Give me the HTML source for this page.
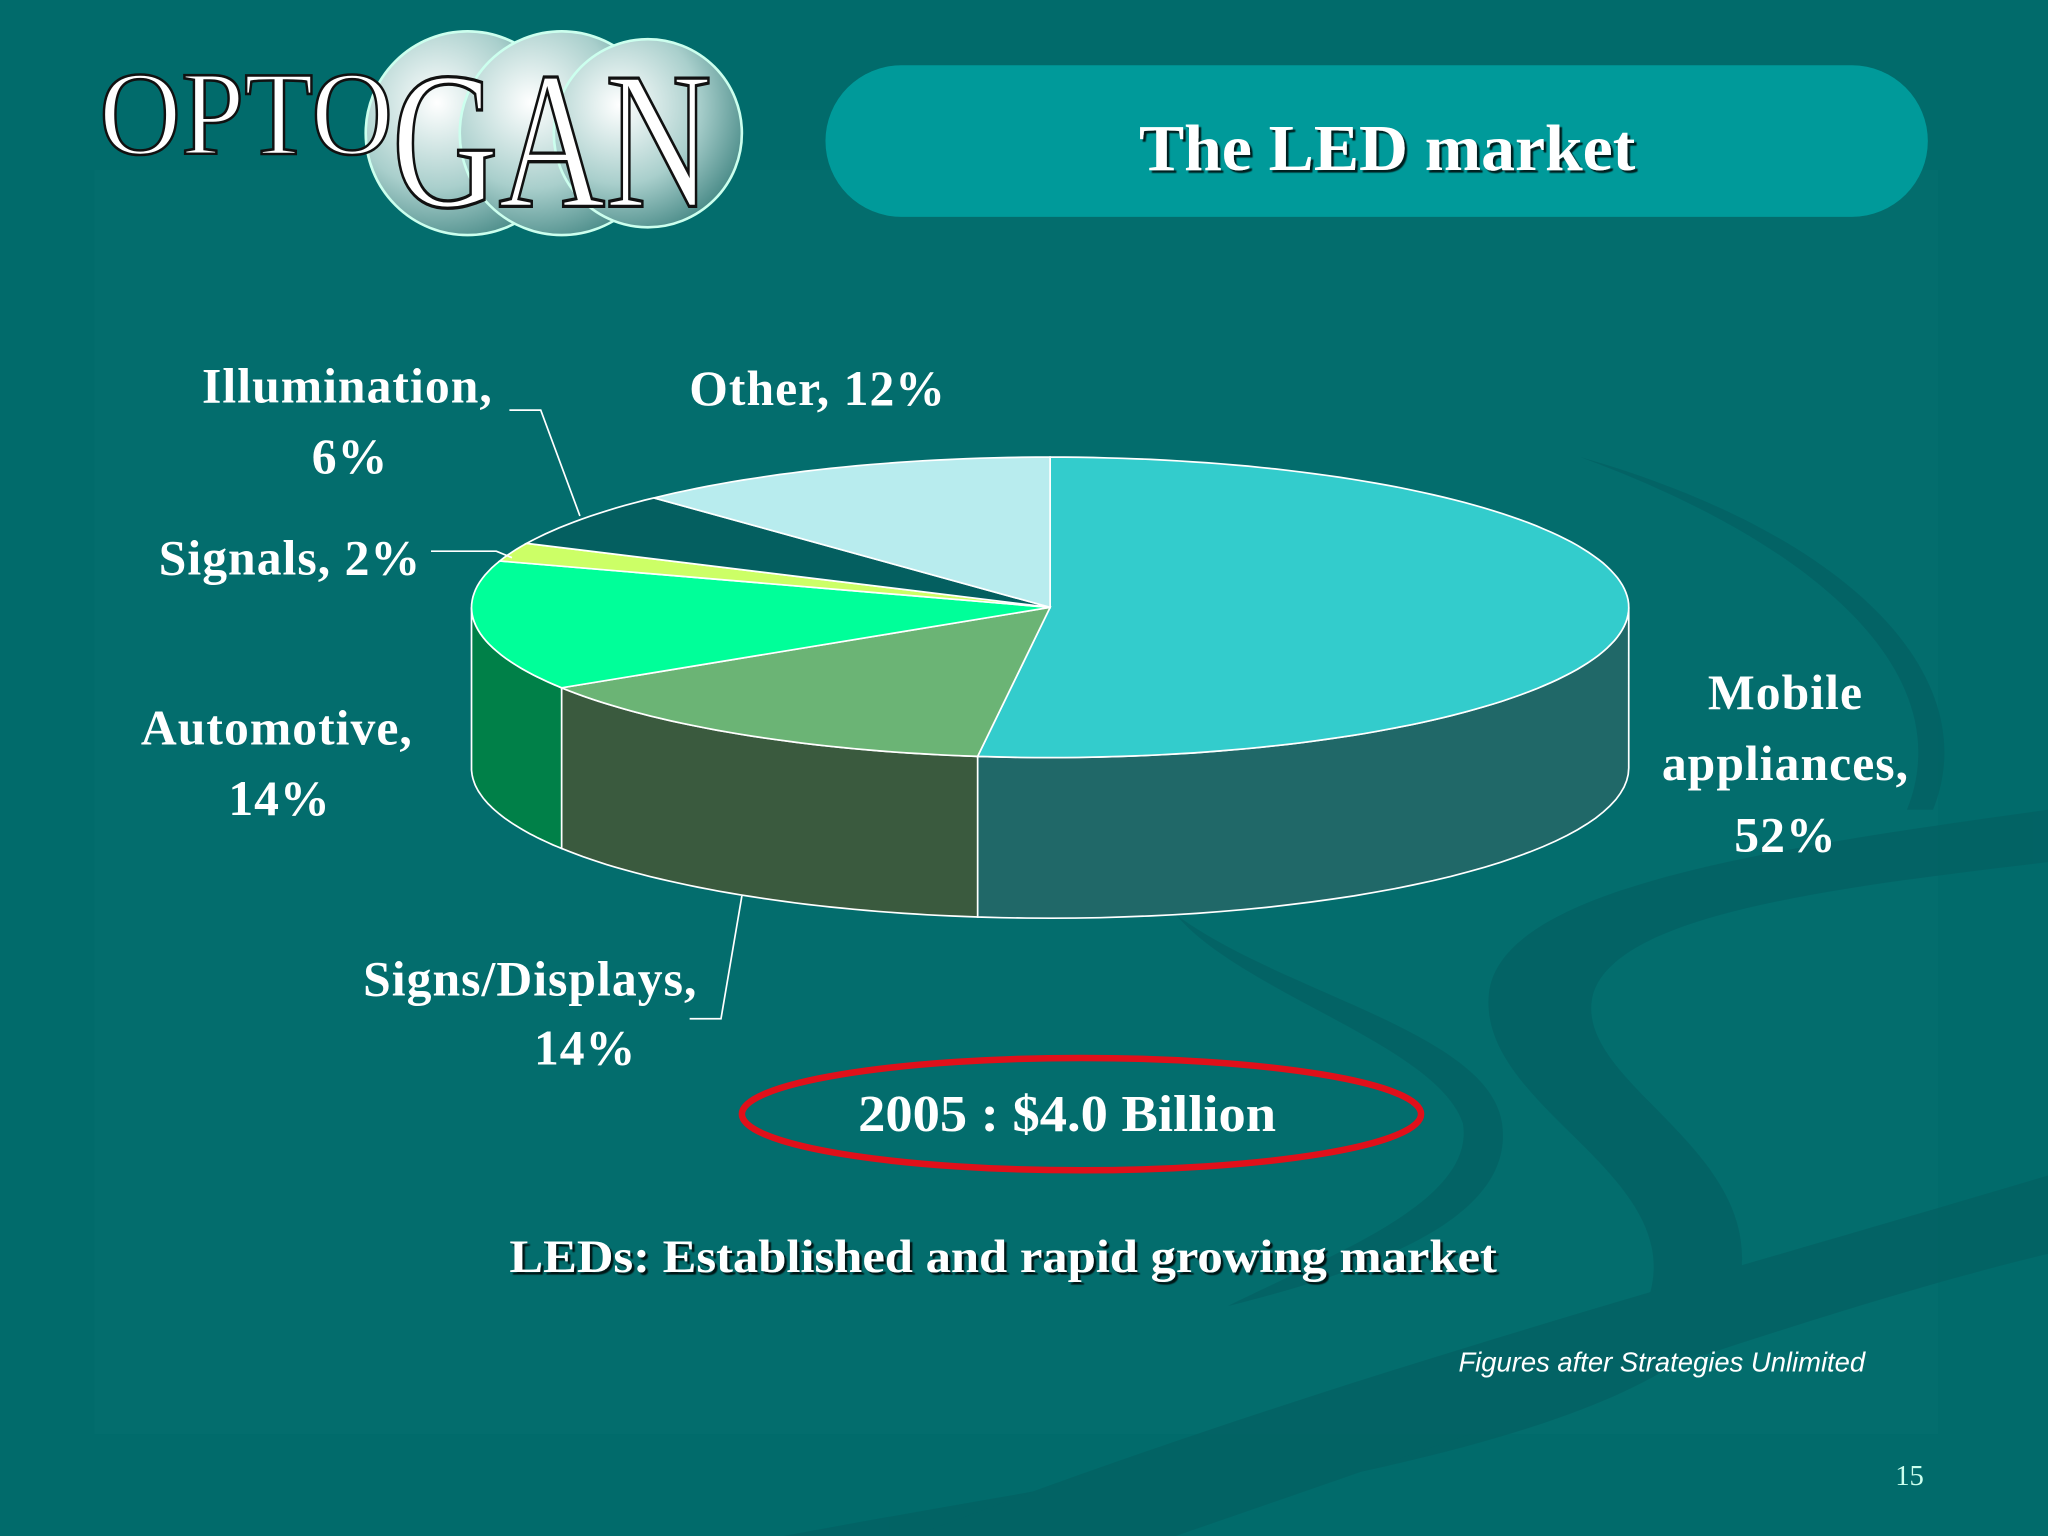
<!DOCTYPE html>
<html><head><meta charset="utf-8">
<style>
html,body{margin:0;padding:0;background:#006b6b;}
svg{display:block;}
text{font-family:"Liberation Serif",serif;}
</style></head>
<body>
<svg id="s" width="2048" height="1536" viewBox="0 0 1568 1176" xmlns="http://www.w3.org/2000/svg">
<defs>
<radialGradient id="ball" cx="0.35" cy="0.35" r="0.7">
<stop offset="0" stop-color="#ffffff"/><stop offset="0.6" stop-color="#a9cfcc"/><stop offset="1" stop-color="#4f8f8c"/>
</radialGradient>
<filter id="sh" x="-10%" y="-10%" width="120%" height="130%"><feDropShadow dx="2" dy="2" stdDeviation="0.5" flood-color="#000" flood-opacity="0.8"/></filter>
</defs>
<rect width="1568" height="1176" fill="#016b6b"/>
<rect x="72" y="130" width="1412" height="968" fill="#036d6d"/>
<g fill="#045e60" opacity="0.6">
<path d="M1568 620 C1350 650 1150 680 1140 760 C1130 850 1300 900 1260 1000 C1220 1080 900 1120 600 1176 L760 1176 C1000 1140 1300 1090 1330 990 C1360 880 1200 830 1220 760 C1240 700 1400 680 1568 660 Z"/>
<path d="M1568 900 C1300 980 1000 1060 700 1176 L900 1176 C1150 1090 1400 1000 1568 960 Z"/>
<path d="M1210 350 C1400 420 1500 520 1460 620 L1480 620 C1520 520 1420 410 1210 350 Z"/>
<path d="M900 700 C950 760 1100 800 1120 860 C1130 920 1020 960 940 1000 C1060 970 1160 930 1150 860 C1140 790 980 760 900 700 Z"/>
</g>
<g>
<circle cx="358" cy="102" r="78" fill="url(#ball)" stroke="#cfe" stroke-width="2"/>
<circle cx="430" cy="102" r="78" fill="url(#ball)" stroke="#cfe" stroke-width="2"/>
<circle cx="496" cy="102" r="72" fill="url(#ball)" stroke="#cfe" stroke-width="2"/>
<text x="76" y="118" font-size="92" fill="#fff" stroke="#111" stroke-width="2" textLength="225" lengthAdjust="spacingAndGlyphs">OPTO</text>
<text x="300" y="158" font-size="150" fill="#fff" stroke="#111" stroke-width="2.5" textLength="245" lengthAdjust="spacingAndGlyphs">GAN</text>
</g>
<rect x="632" y="50" width="844" height="116" rx="58" fill="#009a9a"/>
<text x="1062" y="130" font-size="50" font-weight="bold" fill="#fff" text-anchor="middle" filter="url(#sh)" textLength="380" lengthAdjust="spacingAndGlyphs">The LED market</text>
<g id="pie"></g>
<g font-size="38" font-weight="bold" fill="#fff" letter-spacing="0.8">
<text x="266" y="308" text-anchor="middle">Illumination,</text>
<text x="268" y="362" text-anchor="middle">6%</text>
<text x="626" y="310" text-anchor="middle">Other, 12%</text>
<text x="222" y="440" text-anchor="middle">Signals, 2%</text>
<text x="212" y="570" text-anchor="middle">Automotive,</text>
<text x="214" y="624" text-anchor="middle">14%</text>
<text x="1367" y="543" text-anchor="middle">Mobile</text>
<text x="1367" y="597" text-anchor="middle">appliances,</text>
<text x="1367" y="652" text-anchor="middle">52%</text>
<text x="406" y="762" text-anchor="middle">Signs/Displays,</text>
<text x="448" y="815" text-anchor="middle">14%</text>
</g>
<g stroke="#fff" stroke-width="1.3" fill="none">
<polyline points="390,314 414,314 444,395"/>
<polyline points="330,422 380,422 392,427"/>
<polyline points="528,780 552,780 568,686"/>
</g>
<ellipse cx="828" cy="853" rx="260" ry="43" fill="none" stroke="#e0101a" stroke-width="5"/>
<text x="817" y="866" font-size="40" font-weight="bold" fill="#fff" text-anchor="middle" textLength="320" lengthAdjust="spacingAndGlyphs">2005 : $4.0 Billion</text>
<text x="768" y="974" font-size="36" font-weight="bold" fill="#fff" text-anchor="middle" filter="url(#sh)" textLength="756" lengthAdjust="spacingAndGlyphs">LEDs: Established and rapid growing market</text>
<text x="1428" y="1050" font-size="21" font-style="italic" fill="#fff" text-anchor="end" style="font-family:'Liberation Sans',sans-serif">Figures after Strategies Unlimited</text>
<text x="1473" y="1137" font-size="22" fill="#cfe" text-anchor="end">15</text>
</svg>
<script>
const categories=["Mobile appliances","Signs/Displays","Automotive","Signals","Illumination","Other"];
const values=[52,14,14,2,6,12];
const topColors=["#33cccc","#6bb475","#00ff99","#ccff66","#045f60","#b8ecee"];
const sideColors=["#206868","#3a5a3e","#008048","#8aa040","#033f40","#7aa0a0"];
const cx=804,cy=465,rx=443,ry=115,depth=123;
const NS="http://www.w3.org/2000/svg";
const g=document.getElementById('pie');
const total=values.reduce((a,b)=>a+b,0);
function px(t){return cx+rx*Math.sin(t);}
function py(t){return cy-ry*Math.cos(t);}
let acc=0;const segs=[];
values.forEach((v,i)=>{const a=acc/total*2*Math.PI;acc+=v;const b=acc/total*2*Math.PI;segs.push([a,b]);});
segs.forEach(([a,b],i)=>{
  const s=Math.max(a,Math.PI/2),e=Math.min(b,3*Math.PI/2);
  if(e<=s)return;
  let d="";const n=40;
  for(let k=0;k<=n;k++){const t=s+(e-s)*k/n;d+=(k?"L":"M")+px(t).toFixed(1)+" "+py(t).toFixed(1);}
  for(let k=n;k>=0;k--){const t=s+(e-s)*k/n;d+="L"+px(t).toFixed(1)+" "+(py(t)+depth).toFixed(1);}
  d+="Z";
  const p=document.createElementNS(NS,'path');
  
  
  p.setAttribute('d',d);p.setAttribute('fill',sideColors[i]);p.setAttribute('stroke','#fff');p.setAttribute('stroke-width','1.3');
  g.appendChild(p);
});
segs.forEach(([a,b],i)=>{
  let d="M"+cx+" "+cy;const n=Math.max(4,Math.ceil((b-a)*40));
  for(let k=0;k<=n;k++){const t=a+(b-a)*k/n;d+="L"+px(t).toFixed(1)+" "+py(t).toFixed(1);}
  d+="Z";
  const p=document.createElementNS(NS,'path');
  
  
  p.setAttribute('d',d);p.setAttribute('fill',topColors[i]);p.setAttribute('stroke','#fff');p.setAttribute('stroke-width','1.3');
  g.appendChild(p);
});
</script>
</body></html>
